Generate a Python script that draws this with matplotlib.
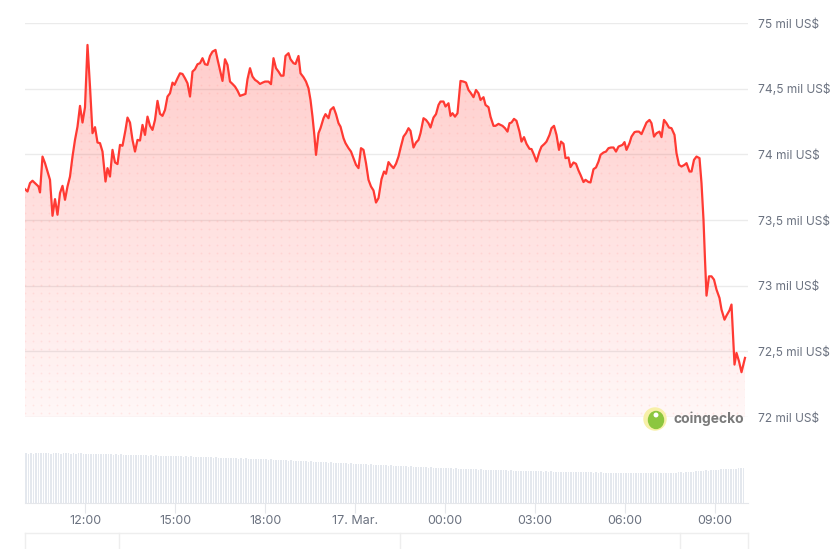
import numpy as np
import matplotlib.pyplot as plt
from matplotlib.patches import Polygon, Ellipse
from matplotlib.lines import Line2D

plt.rcParams['font.family'] = ['Inter', 'DejaVu Sans']

# minutes since 16 Mar 10:00, price in thousand US$
minutes = [0, 5, 10, 15, 22, 27, 30, 35, 40, 45, 50, 55, 60, 65, 70, 75, 80, 85, 90, 95,
           100, 105, 110, 115, 120, 125, 130, 135, 140, 145, 150, 155, 161, 165, 170, 175,
           180, 185, 190, 195, 201, 205, 210, 215, 220, 225, 230, 235, 240,
           245, 250, 255, 260, 265, 270, 275, 280, 285, 290, 295, 299, 305, 310, 315, 320,
           325, 330, 335, 340, 345, 350, 355, 360, 365, 370, 375, 381, 385, 390, 395, 400,
           405, 410, 415, 420, 425, 430, 435, 441, 445, 450, 455, 460, 465, 470, 475, 480,
           487, 492, 497, 502, 507, 512, 517, 521, 527, 531, 537, 541, 547, 551, 557, 562,
           567, 571, 575, 579, 582, 587, 591, 597, 601, 607, 611, 617, 622, 627, 631, 637,
           641, 647, 652, 657, 662, 667, 672, 677, 682, 687, 692, 697, 702, 707,
           713, 718, 722, 727, 731, 737, 742, 747, 751, 757, 762, 767, 771, 777, 782, 787,
           791, 797, 802, 807, 811, 817, 822, 827, 831, 837, 841, 847, 851, 855, 860, 865,
           871, 877, 882, 887, 891, 897, 902, 907, 911, 917, 921, 927, 931, 937, 941, 947, 951,
           955, 960, 965, 969, 973, 978, 983, 989, 993, 998, 1003, 1009, 1013, 1018, 1023,
           1029, 1033, 1039, 1043, 1049, 1053, 1058, 1063, 1068, 1072, 1077, 1081, 1087,
           1091, 1097, 1102, 1107, 1111, 1117, 1121, 1127, 1131, 1137, 1142, 1147, 1151,
           1157, 1162, 1167, 1172, 1177, 1182, 1187,
           1195, 1199, 1203, 1209, 1213, 1219, 1223, 1228, 1233, 1238, 1243, 1249, 1253,
           1258, 1263, 1269, 1273, 1278, 1283, 1288, 1293, 1299, 1303, 1308, 1313, 1319,
           1323, 1329, 1333, 1338, 1343, 1349, 1353, 1357, 1360, 1363, 1368, 1373, 1378,
           1383, 1389, 1393, 1399, 1403, 1409, 1413, 1419, 1423, 1428, 1433, 1440]
price_k = [73.735, 73.717, 73.781, 73.799, 73.773, 73.755, 73.710, 73.983, 73.933, 73.869,
           73.806, 73.532, 73.659, 73.540, 73.705, 73.760, 73.654, 73.755, 73.831, 73.983,
           74.110, 74.211, 74.369, 74.242, 74.359, 74.833, 74.516, 74.161, 74.207, 74.090,
           74.085, 74.021, 73.793, 73.895, 73.831, 74.034, 73.938, 73.926, 74.072, 74.065,
           74.186, 74.280, 74.242, 74.110, 74.021, 74.110, 74.105, 74.224, 74.148,
           74.287, 74.217, 74.186, 74.262, 74.407, 74.308, 74.293, 74.338, 74.440, 74.465,
           74.546, 74.529, 74.579, 74.617, 74.612, 74.579, 74.541, 74.440, 74.630, 74.648,
           74.686, 74.694, 74.732, 74.686, 74.681, 74.749, 74.782, 74.795, 74.724, 74.643,
           74.559, 74.724, 74.681, 74.554, 74.536, 74.516, 74.485, 74.445, 74.452, 74.460,
           74.572, 74.656, 74.592, 74.567, 74.554, 74.536, 74.546, 74.554,
           74.554, 74.534, 74.732, 74.656, 74.630, 74.599, 74.599, 74.749, 74.770, 74.724,
           74.694, 74.688, 74.749, 74.617, 74.587, 74.554, 74.503, 74.414, 74.287, 74.135,
           73.996, 74.161, 74.199, 74.275, 74.306, 74.275, 74.338, 74.359, 74.306, 74.237,
           74.211, 74.123, 74.085, 74.047, 74.021, 73.971, 73.920, 73.895, 74.047, 74.034,
           73.933, 73.806, 73.755, 73.725, 73.633, 73.667,
           73.811, 73.869, 73.852, 73.941, 73.920, 73.895, 73.928, 73.983, 74.047, 74.135,
           74.161, 74.199, 74.179, 74.052, 74.090, 74.110, 74.161, 74.275, 74.262, 74.237,
           74.204, 74.280, 74.306, 74.376, 74.402, 74.402, 74.364, 74.389, 74.293, 74.313,
           74.287, 74.313, 74.559, 74.554, 74.546, 74.490, 74.470, 74.435, 74.490, 74.465,
           74.414, 74.435, 74.376, 74.359, 74.287, 74.217, 74.217, 74.232, 74.224,
           74.217, 74.199, 74.173, 74.237, 74.242, 74.270, 74.255, 74.173, 74.097, 74.131,
           74.080, 74.042, 74.040, 73.996, 73.945, 74.021, 74.059, 74.080, 74.097, 74.148,
           74.199, 74.217, 74.148, 74.034, 74.097, 74.080, 73.971, 73.976, 73.903, 73.938,
           73.928, 73.877, 73.844, 73.789, 73.806, 73.789, 73.786, 73.887, 73.900, 73.945,
           73.996, 74.014, 74.021, 74.047, 74.052, 74.052, 74.021, 74.059,
           74.072, 74.093, 74.034, 74.085, 74.135, 74.169, 74.173, 74.173, 74.154, 74.199,
           74.242, 74.262, 74.237, 74.135, 74.161, 74.173, 74.131, 74.262, 74.237, 74.204,
           74.199, 74.148, 74.009, 73.920, 73.907, 73.920, 73.933, 73.869, 73.869, 73.958,
           73.983, 73.971, 73.781, 73.502, 73.198, 72.924, 73.071, 73.071, 73.046, 72.970,
           72.906, 72.818, 72.741, 72.772, 72.812, 72.856, 72.399, 72.488, 72.424, 72.341,
           72.450]

# volume, one bar per 5 minutes (relative units), one row per hour
volume = [
    49.8, 49.5, 50.0, 49.2, 49.8, 50.1, 49.6, 49.9, 50.2, 49.7, 49.4, 49.9,
    50.0, 49.6, 49.3, 49.8, 50.1, 49.7, 49.5, 49.9, 49.2, 49.6, 49.8, 49.4,
    49.1, 49.5, 49.0, 48.8, 49.3, 48.9, 49.2, 48.7, 49.0, 48.6, 48.9, 48.5,
    48.8, 48.3, 48.6, 48.1, 48.5, 48.2, 47.9, 48.4, 48.0, 47.7, 48.1, 47.8,
    47.9, 47.5, 47.8, 47.3, 47.6, 47.2, 47.5, 47.0, 47.4, 46.9, 47.2, 46.8,
    47.1, 46.6, 46.9, 46.5, 46.8, 46.3, 46.6, 46.1, 46.4, 46.0, 46.2, 45.8,
    46.0, 45.6, 45.9, 45.4, 45.7, 45.2, 45.5, 45.0, 45.3, 44.9, 45.1, 44.7,
    44.9, 44.5, 44.8, 44.3, 44.6, 44.1, 44.4, 43.9, 44.2, 43.8, 44.0, 43.6,
    43.8, 43.3, 43.6, 43.0, 43.3, 42.8, 43.1, 42.6, 42.9, 42.4, 42.6, 42.2,
    42.4, 41.9, 42.1, 41.6, 41.9, 41.3, 41.6, 41.1, 41.3, 40.8, 41.1, 40.6,
    40.8, 40.3, 40.6, 40.1, 40.3, 39.8, 40.1, 39.6, 39.8, 39.3, 39.6, 39.1,
    39.3, 38.8, 39.1, 38.6, 38.8, 38.3, 38.6, 38.1, 38.3, 37.9, 38.1, 37.7,
    37.8, 37.4, 37.6, 37.1, 37.4, 36.9, 37.1, 36.7, 36.9, 36.5, 36.7, 36.3,
    36.4, 36.0, 36.2, 35.7, 35.9, 35.5, 35.7, 35.3, 35.5, 35.1, 35.3, 34.9,
    35.0, 34.6, 34.8, 34.4, 34.6, 34.2, 34.4, 34.0, 34.2, 33.8, 34.0, 33.6,
    33.8, 33.4, 33.6, 33.2, 33.4, 33.0, 33.2, 32.9, 33.1, 32.7, 32.9, 32.6,
    32.8, 32.4, 32.6, 32.3, 32.5, 32.1, 32.3, 32.0, 32.2, 31.9, 32.1, 31.8,
    31.9, 31.6, 31.8, 31.5, 31.7, 31.4, 31.6, 31.3, 31.5, 31.2, 31.4, 31.1,
    31.3, 31.0, 31.2, 30.9, 31.1, 30.8, 31.0, 30.7, 30.9, 30.6, 30.8, 30.5,
    30.7, 30.4, 30.6, 30.3, 30.5, 30.2, 30.4, 30.1, 30.3, 30.2, 30.4, 30.1,
    30.5, 30.2, 30.4, 30.1, 30.3, 30.0, 30.2, 29.9, 30.1, 30.3, 30.0, 30.2,
    30.1, 30.3, 30.0, 30.2, 30.4, 30.1, 30.3, 30.5, 30.2, 30.6, 30.8, 30.5,
    31.0, 31.2, 31.5, 31.3, 31.8, 32.0, 31.8, 32.3, 32.6, 32.4, 32.9, 33.2,
    33.5, 33.4, 33.8, 34.0, 33.9, 34.3, 34.2, 34.5, 34.4, 34.7, 34.6, 34.8,
]
vol_min = np.arange(len(volume)) * 5

tick_min = [120, 300, 480, 660, 840, 1020, 1200, 1380]
tick_lab = ['12:00', '15:00', '18:00', '17. Mar.', '00:00', '03:00', '06:00', '09:00']
price_ticks = [72, 72.5, 73, 73.5, 74, 74.5, 75]
price_lab = ['72 mil US$', '72,5 mil US$', '73 mil US$', '73,5 mil US$',
             '74 mil US$', '74,5 mil US$', '75 mil US$']

W, H = 839, 549
red = '#ff3a33'
grey_txt = '#6b7280'
grid_c = '#ebebeb'


def box(l, t, r, b):
    return [l / W, 1 - b / H, (r - l) / W, (b - t) / H]


fig = plt.figure(figsize=(W / 100, H / 100), dpi=100)

# price pane
ax = fig.add_axes(box(25, 23, 748, 417))
ax.set_xlim(0, 1446)
ax.set_ylim(72, 75)
for s in ax.spines.values():
    s.set_visible(False)
for p in price_ticks:
    ax.axhline(p, color=grid_c, lw=1, zorder=0)

x = np.array(minutes)
y = np.array(price_k)
verts = np.column_stack([np.r_[x[0], x, x[-1]], np.r_[72, y, 72]])
clip = Polygon(verts, closed=True, facecolor='none', edgecolor='none')
ax.add_patch(clip)

alpha = np.linspace(0.27, 0.04, 256)
grad = np.zeros((256, 1, 4))
grad[..., 0] = 1.0
grad[..., 1] = 0.23
grad[..., 2] = 0.2
grad[..., 3] = alpha[:, None]
im = ax.imshow(grad, extent=(0, 1446, 72, 75), aspect='auto', origin='upper', zorder=1)
im.set_clip_path(clip)

# dotted texture inside the area
gx, gy = np.meshgrid(np.arange(0, 1446, 16), np.arange(72.03, 75, 0.061))
dots = ax.scatter(gx.ravel(), gy.ravel(), s=1.6, color=red, alpha=0.09, lw=0, zorder=1.5)
dots.set_clip_path(clip)

ax.plot(x, y, color=red, lw=1.6, zorder=3, solid_joinstyle='round')

ax.set_xticks([])
ax.yaxis.tick_right()
ax.set_yticks(price_ticks, price_lab)
ax.tick_params(axis='y', length=0, pad=7, labelsize=8.6, labelcolor=grey_txt)

# volume pane
axv = fig.add_axes(box(25, 440, 748, 503))
axv.set_xlim(0, 1446)
axv.set_ylim(0, 63)
axv.bar(vol_min, volume, width=3, align='edge', color='#e4e8ee', lw=0)
for k, s in axv.spines.items():
    s.set_visible(k == 'bottom')
axv.spines['bottom'].set_color('#e5e7eb')
axv.set_yticks([])
axv.set_xticks(tick_min, tick_lab)
axv.tick_params(axis='x', length=7, color='#e5e7eb', pad=2, labelsize=9, labelcolor=grey_txt)

# range bar outline at the bottom
fig.add_artist(Line2D([25 / W, 748 / W], [1 - 533 / H] * 2, color='#eeeeee', lw=1))
for px in [25, 119, 400, 680, 748]:
    fig.add_artist(Line2D([px / W] * 2, [1 - 533 / H, 0], color='#eeeeee', lw=1))

# coingecko watermark
cx, cy, r = 655, 419, 11
fig.add_artist(Ellipse((cx / W, 1 - cy / H), 2 * r / W, 2 * r / H,
                       transform=fig.transFigure, color='#f7f0a8', zorder=5))
fig.add_artist(Ellipse(((cx + 1) / W, 1 - (cy + 1) / H), 15 / W, 17 / H,
                       transform=fig.transFigure, color='#8cc63f', zorder=6))
fig.add_artist(Ellipse(((cx + 1) / W, 1 - (cy - 4) / H), 3.5 / W, 3.5 / H,
                       transform=fig.transFigure, color='white', zorder=7))
fig.text(674 / W, 1 - cy / H, 'coingecko', fontsize=10, fontweight='bold',
         color='#7a7a7a', va='center', ha='left', zorder=7)

fig.savefig('out.png', dpi=100)
